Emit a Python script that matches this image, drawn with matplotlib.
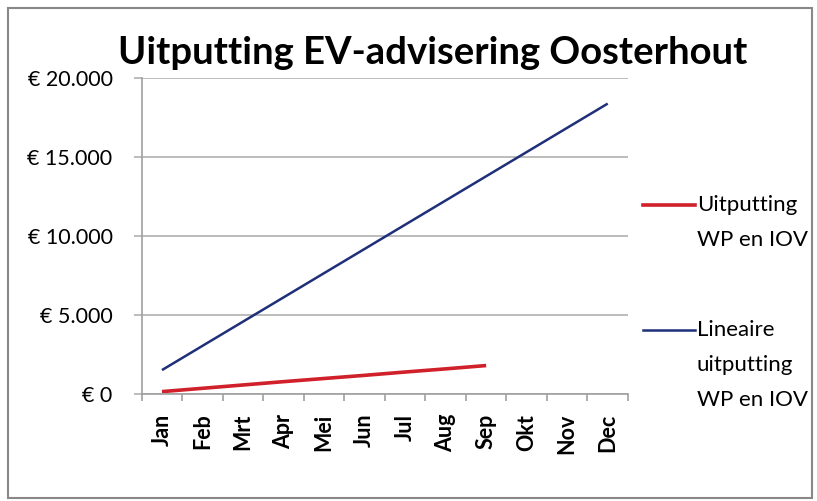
import matplotlib
matplotlib.use("Agg")
import matplotlib.pyplot as plt
from matplotlib.lines import Line2D
from matplotlib.patches import Rectangle
from matplotlib.ticker import FixedLocator

months = ["Jan", "Feb", "Mrt", "Apr", "Mei", "Jun", "Jul", "Aug", "Sep", "Okt", "Nov", "Dec"]
uitputting = [170, 380, 590, 800, 1000, 1200, 1410, 1610, 1820]
lineair = [1533, 3067, 4600, 6133, 7667, 9200, 10733, 12267, 13800, 15333, 16867, 18400]
yticks = [0, 5000, 10000, 15000, 20000]
ytick_labels = ["€ 0", "€ 5.000", "€ 10.000", "€ 15.000", "€ 20.000"]
title = "Uitputting EV-advisering Oosterhout"
legend_labels = ["Uitputting\nWP en IOV", "Lineaire\nuitputting\nWP en IOV"]

FONT = ["Lato", "DejaVu Sans"]
plt.rcParams["font.family"] = FONT

W, H = 817, 501
fig = plt.figure(figsize=(W / 100, H / 100), dpi=100)
fig.patch.set_facecolor("white")

def fx(px):
    return px / W

def fy(py):
    return 1 - py / H

ax = fig.add_axes([fx(141.7), fy(394.3), fx(628) - fx(141.7), fy(78.3) - fy(394.3)])

RED, BLUE = "#d0202a", "#1f2f7a"
x = list(range(len(months)))
ax.plot(x[:len(uitputting)], uitputting, color=RED, lw=2.6, solid_capstyle="butt")
ax.plot(x, lineair, color=BLUE, lw=1.8, solid_capstyle="butt")

ax.set_xlim(-0.5, len(months) - 0.5)
ax.set_ylim(0, 20000)
ax.yaxis.set_major_locator(FixedLocator(yticks))
ax.set_yticklabels(ytick_labels, fontsize=15.5)
ax.yaxis.grid(True, color="#b0b0b0", lw=1.2)
ax.set_axisbelow(True)

ax.set_xticks(x)
ax.set_xticklabels(months, rotation=90, fontsize=15.5, fontweight="bold")
ax.set_xticks([i - 0.5 for i in range(len(months) + 1)], minor=True)
ax.tick_params(axis="x", which="major", length=0, pad=14)
ax.tick_params(axis="x", which="minor", length=5, color="#a0a0a0", width=1.2)
ax.tick_params(axis="y", length=6, color="#b0b0b0", width=1.2, pad=15)

for s in ["top", "right"]:
    ax.spines[s].set_visible(False)
for s in ["left", "bottom"]:
    ax.spines[s].set_color("#a0a0a0")
    ax.spines[s].set_linewidth(1.2)

fig.text(fx(433), fy(53), title, ha="center", va="center", fontsize=27.5, fontweight="bold")

# legend
colors = [RED, BLUE]
widths = [2.6, 1.8]
ys = [205, 330]
for lab, c, lw, yy in zip(legend_labels, colors, widths, ys):
    fig.add_artist(Line2D([fx(643), fx(695)], [fy(yy), fy(yy)], color=c, lw=lw))
    for i, line in enumerate(lab.split("\n")):
        fig.text(fx(697), fy(yy + i * 35), line, ha="left", va="center", fontsize=16)

fig.add_artist(Rectangle((fx(8), fy(498)), fx(812) - fx(8), fy(8) - fy(498),
                         fill=False, edgecolor="#888888", lw=1.5, transform=fig.transFigure))

fig.savefig("out.png", dpi=100)
